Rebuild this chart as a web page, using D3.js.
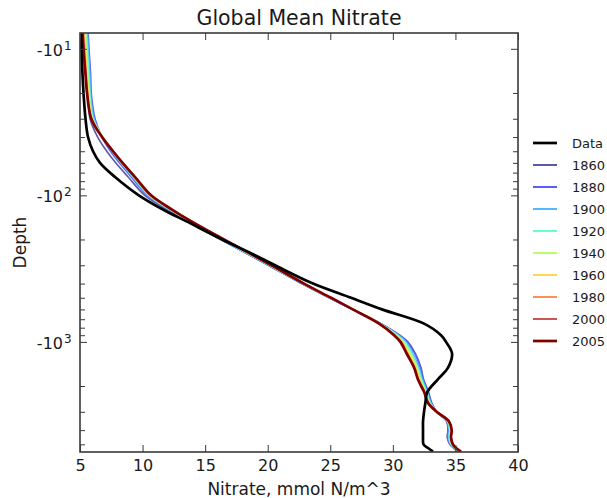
<!DOCTYPE html>
<html><head><meta charset="utf-8">
<script src="https://cdn.jsdelivr.net/npm/d3@7"></script>
<style>body{margin:0;background:#fff}svg{display:block}text{font-family:"DejaVu Sans",sans-serif}</style>
</head><body><svg id="c" width="607" height="498"></svg>
<script>
const depths = [7.8, 10, 15, 20, 30, 40, 50, 60, 75, 100, 125, 150, 200, 250, 300, 400, 500, 600, 750, 900, 1000, 1200, 1500, 1800, 2200, 2600, 3000, 3500, 4000, 4500, 5000, 5300, 5600];
const dataObs = [5.08, 5.12, 5.2, 5.28, 5.44, 5.64, 6.04, 6.6, 7.8, 9.7, 11.63, 13.47, 16.35, 18.74, 20.58, 23.62, 26.66, 29.13, 32.49, 33.85, 34.25, 34.73, 34.41, 33.6, 32.75, 32.6, 32.49, 32.41, 32.41, 32.41, 32.45, 32.81, 33.21];
const m1860 = [5.45, 5.53, 5.64, 5.66, 5.8, 6.41, 7.14, 7.85, 8.85, 10.18, 11.95, 13.57, 16.25, 18.35, 20.05, 22.7, 24.91, 26.75, 29.05, 30.55, 31.2, 31.8, 32.25, 32.45, 32.85, 33.1, 33.5, 34.3, 34.4, 34.35, 34.55, 34.85, 35.15];
const m1880 = [5.65, 5.72, 5.85, 5.9, 6.2, 6.76, 7.44, 8.15, 9.1, 10.38, 12.05, 13.6, 16.27, 18.37, 20.07, 22.72, 24.93, 26.77, 29.05, 30.52, 31.15, 31.75, 32.2, 32.42, 32.82, 33.08, 33.5, 34.32, 34.42, 34.37, 34.57, 34.87, 35.17];
const m1900 = [5.6, 5.66, 5.78, 5.84, 6.12, 6.8, 7.55, 8.25, 9.2, 10.45, 12.12, 13.65, 16.3, 18.4, 20.1, 22.75, 24.95, 26.78, 29.02, 30.45, 31.05, 31.6, 32.1, 32.35, 32.75, 33.02, 33.5, 34.35, 34.5, 34.45, 34.62, 34.92, 35.22];
const m1920 = [5.5, 5.58, 5.7, 5.78, 6.05, 6.82, 7.6, 8.3, 9.27, 10.52, 12.18, 13.72, 16.36, 18.46, 20.16, 22.8, 24.98, 26.79, 29.0, 30.35, 30.95, 31.5, 32.0, 32.28, 32.7, 32.97, 33.5, 34.4, 34.55, 34.5, 34.67, 34.95, 35.28];
const m1940 = [5.45, 5.5, 5.62, 5.72, 6.0, 6.82, 7.62, 8.35, 9.32, 10.57, 12.23, 13.77, 16.4, 18.5, 20.2, 22.83, 25.0, 26.8, 28.97, 30.28, 30.85, 31.4, 31.92, 32.2, 32.62, 32.92, 33.5, 34.42, 34.6, 34.55, 34.72, 35.0, 35.33];
const m1960 = [5.38, 5.43, 5.56, 5.66, 5.96, 6.8, 7.63, 8.38, 9.36, 10.62, 12.28, 13.8, 16.44, 18.54, 20.24, 22.86, 25.02, 26.8, 28.95, 30.2, 30.75, 31.28, 31.85, 32.12, 32.58, 32.88, 33.5, 34.45, 34.65, 34.6, 34.75, 35.02, 35.38];
const m1980 = [5.3, 5.36, 5.5, 5.6, 5.92, 6.78, 7.64, 8.4, 9.38, 10.65, 12.32, 13.84, 16.47, 18.57, 20.27, 22.88, 25.04, 26.8, 28.92, 30.15, 30.68, 31.18, 31.77, 32.06, 32.54, 32.84, 33.5, 34.48, 34.68, 34.63, 34.78, 35.04, 35.42];
const m2000 = [5.24, 5.3, 5.46, 5.57, 5.9, 6.77, 7.64, 8.4, 9.4, 10.67, 12.34, 13.86, 16.49, 18.59, 20.29, 22.89, 25.05, 26.8, 28.9, 30.12, 30.63, 31.13, 31.72, 32.02, 32.51, 32.81, 33.5, 34.5, 34.7, 34.65, 34.8, 35.05, 35.45];
const m2005 = [5.2, 5.28, 5.44, 5.56, 5.9, 6.76, 7.64, 8.4, 9.4, 10.68, 12.35, 13.87, 16.5, 18.6, 20.3, 22.9, 25.06, 26.8, 28.9, 30.1, 30.6, 31.1, 31.7, 32.0, 32.5, 32.8, 33.5, 34.5, 34.7, 34.65, 34.8, 35.05, 35.45];
const seriesNames = ["Data", "1860", "1880", "1900", "1920", "1940", "1960", "1980", "2000", "2005"];
const seriesValues = [dataObs, m1860, m1880, m1900, m1920, m1940, m1960, m1980, m2000, m2005];
const seriesColors = ["#000000", "#5a5aaa", "#5c5cff", "#55b8ff", "#66ffd2", "#b8ff70", "#ffd84f", "#ff8f57", "#cc5553", "#800000"];
const xTicks = [5, 10, 15, 20, 25, 30, 35, 40];
const yMajor = [10, 100, 1000];
const yDomain = [7.8, 5640];
const title = "Global Mean Nitrate";
const xLabel = "Nitrate, mmol N/m^3";
const yLabel = "Depth";

const svg = d3.select("#c");
const L = 80, R = 518, T = 33, B = 452;
const x = d3.scaleLinear().domain([5, 40]).range([L, R]);
const y = d3.scaleLog().domain(yDomain).range([T, B]);
const axisCol = "#3a3a3a";
const txtCol = "#1a1a1a";

const yMinor = y.ticks().filter(v => v >= 10 && yMajor.indexOf(v) < 0);

svg.append("clipPath").attr("id", "clip").append("rect").attr("x", L).attr("y", T).attr("width", R - L).attr("height", B - T);

const line = d3.line().curve(d3.curveCatmullRom.alpha(0.5));
const lines = svg.append("g").attr("clip-path", "url(#clip)");
const order = [1, 2, 3, 4, 5, 6, 7, 8, 9, 0];
order.forEach(i => {
  const pts = depths.map((d, k) => [x(seriesValues[i][k]), y(d)]);
  lines.append("path").attr("d", line(pts)).attr("fill", "none")
    .attr("stroke", seriesColors[i])
    .attr("stroke-width", (i === 0 || i === 9) ? 2.7 : 1.6)
    .attr("stroke-linejoin", "round");
});

// axes (ticks inward)
const axL = d3.axisLeft(y).tickValues(yMajor).tickSize(-7).tickFormat("");
const axR = d3.axisRight(y).tickValues(yMajor).tickSize(-7).tickFormat("");
const axLm = d3.axisLeft(y).tickValues(yMinor).tickSize(-5).tickFormat("");
const axRm = d3.axisRight(y).tickValues(yMinor).tickSize(-5).tickFormat("");
const axB = d3.axisBottom(x).tickValues(xTicks).tickSize(-7).tickPadding(12).tickFormat(d3.format("d"));
const axT = d3.axisTop(x).tickValues(xTicks).tickSize(-7).tickFormat("");
function style(sel) {
  sel.selectAll(".domain").remove();
  sel.selectAll("line").attr("stroke", axisCol).attr("stroke-width", 1);
  sel.selectAll("text").attr("fill", txtCol).style("font-size", "16px").style("font-family", "DejaVu Sans");
}
svg.append("g").attr("transform", `translate(${L},0)`).call(axL).call(style);
svg.append("g").attr("transform", `translate(${R},0)`).call(axR).call(style);
svg.append("g").attr("transform", `translate(${L},0)`).call(axLm).call(style);
svg.append("g").attr("transform", `translate(${R},0)`).call(axRm).call(style);
const gB = svg.append("g").attr("transform", `translate(0,${B})`).call(axB).call(style);
gB.selectAll("text").attr("dy", null).attr("y", 19);
svg.append("g").attr("transform", `translate(0,${T})`).call(axT).call(style);

svg.append("rect").attr("x", L).attr("y", T).attr("width", R - L).attr("height", B - T)
  .attr("fill", "none").attr("stroke", axisCol).attr("stroke-width", 1.6);

// y tick labels: -10^n
yMajor.forEach(v => {
  svg.append("text").attr("x", 63).attr("y", y(v) + 7).attr("text-anchor", "end")
    .style("font-size", "16px").attr("fill", txtCol).text("-10");
  svg.append("text").attr("x", 64).attr("y", y(v) + 1).style("font-size", "12px").attr("fill", txtCol)
    .text(String(Math.round(Math.log10(v))));
});

svg.append("text").attr("x", (L + R) / 2).attr("y", 25).attr("text-anchor", "middle")
  .style("font-size", "20.5px").attr("fill", txtCol).text(title);
svg.append("text").attr("x", (L + R) / 2).attr("y", 495).attr("text-anchor", "middle")
  .style("font-size", "17px").attr("fill", txtCol).text(xLabel);
svg.append("text").attr("transform", `translate(26,${(T + B) / 2}) rotate(-90)`).attr("text-anchor", "middle")
  .style("font-size", "17px").attr("fill", txtCol).text(yLabel);

// legend
const leg = svg.append("g");
seriesNames.forEach((n, i) => {
  const yy = 143 + i * 22;
  leg.append("line").attr("x1", 533).attr("x2", 557).attr("y1", yy).attr("y2", yy)
    .attr("stroke", seriesColors[i]).attr("stroke-width", (i === 0 || i === 9) ? 2.7 : 2);
  leg.append("text").attr("x", 572).attr("y", yy + 5).style("font-size", "13px").attr("fill", txtCol).text(n);
});
</script></body></html>
